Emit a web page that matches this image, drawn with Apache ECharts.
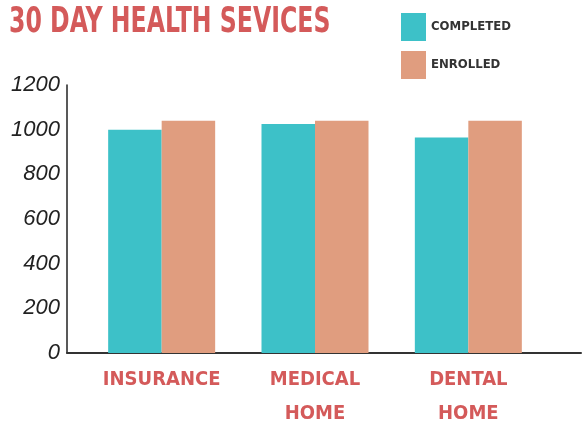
<!DOCTYPE html>
<html>
<head>
<meta charset="utf-8">
<script src="https://cdn.jsdelivr.net/npm/echarts@6/dist/echarts.min.js"></script>
<style>
  html, body { margin: 0; padding: 0; background: #fff; }
  #main { width: 582px; height: 422px; }
</style>
</head>
<body>
<div id="main"></div>
<script>
var categories = ['INSURANCE', 'MEDICAL\nHOME', 'DENTAL\nHOME'];
var completed = [1000, 1025, 965];
var enrolled = [1040, 1040, 1040];
var yTicks = [0, 200, 400, 600, 800, 1000, 1200];

var condensed = '"DejaVu Sans Condensed", "DejaVu Sans", sans-serif';

var chart = echarts.init(document.getElementById('main'));
var option = {
    animation: false,
    // title drawn as a squeezed text so it looks like the condensed headline
    graphic: [{
        type: 'text',
        left: 9,
        top: 5,
        scaleX: 0.75,
        style: {
            text: '30 DAY HEALTH SEVICES',
            font: 'bold 35px ' + condensed,
            fill: '#d45a5a'
        }
    }],
    legend: {
        orient: 'vertical',
        left: 396,
        top: 8,
        itemWidth: 25,
        itemHeight: 28,
        itemGap: 10,
        icon: 'rect',
        textStyle: {
            fontFamily: condensed,
            fontWeight: 'bold',
            fontSize: 13,
            color: '#333'
        },
        data: ['COMPLETED', 'ENROLLED']
    },
    grid: [
        // frame for the axis lines
        { left: 67, right: 1, top: 85, bottom: 69, outerBoundsMode: 'none' },
        // bars
        { left: 85, right: 37, top: 85, bottom: 69, outerBoundsMode: 'none' }
    ],
    xAxis: [{
        gridIndex: 0,
        type: 'value',
        min: 0,
        max: 1,
        axisLine: { show: true, lineStyle: { color: '#333', width: 2 } },
        axisTick: { show: false },
        axisLabel: { show: false },
        splitLine: { show: false }
    }, {
        gridIndex: 1,
        type: 'category',
        data: categories,
        axisLine: { show: false },
        axisTick: { show: false },
        axisLabel: {
            interval: 0,
            margin: 10,
            lineHeight: 34,
            fontFamily: condensed,
            fontWeight: 'bold',
            fontSize: 20,
            color: '#d45a5a'
        }
    }],
    yAxis: [{
        gridIndex: 0,
        type: 'value',
        min: yTicks[0],
        max: yTicks[yTicks.length - 1],
        interval: 200,
        axisLine: { show: true, lineStyle: { color: '#222', width: 1.5 } },
        axisTick: { show: false },
        splitLine: { show: false },
        axisLabel: {
            margin: 7,
            formatter: function (v) { return String(v); },
            fontFamily: '"Liberation Sans", Arial, sans-serif',
            fontStyle: 'italic',
            fontSize: 22,
            color: '#222'
        }
    }, {
        gridIndex: 1,
        type: 'value',
        min: yTicks[0],
        max: yTicks[yTicks.length - 1],
        interval: 200,
        show: false
    }],
    series: [{
        name: 'COMPLETED',
        type: 'bar',
        xAxisIndex: 1,
        yAxisIndex: 1,
        data: completed,
        barWidth: 53.5,
        barGap: '0%',
        itemStyle: { color: '#3dc1c8' }
    }, {
        name: 'ENROLLED',
        type: 'bar',
        xAxisIndex: 1,
        yAxisIndex: 1,
        data: enrolled,
        barWidth: 53.5,
        barGap: '0%',
        itemStyle: { color: '#e09d7f' }
    }]
};
chart.setOption(option);
</script>
</body>
</html>
